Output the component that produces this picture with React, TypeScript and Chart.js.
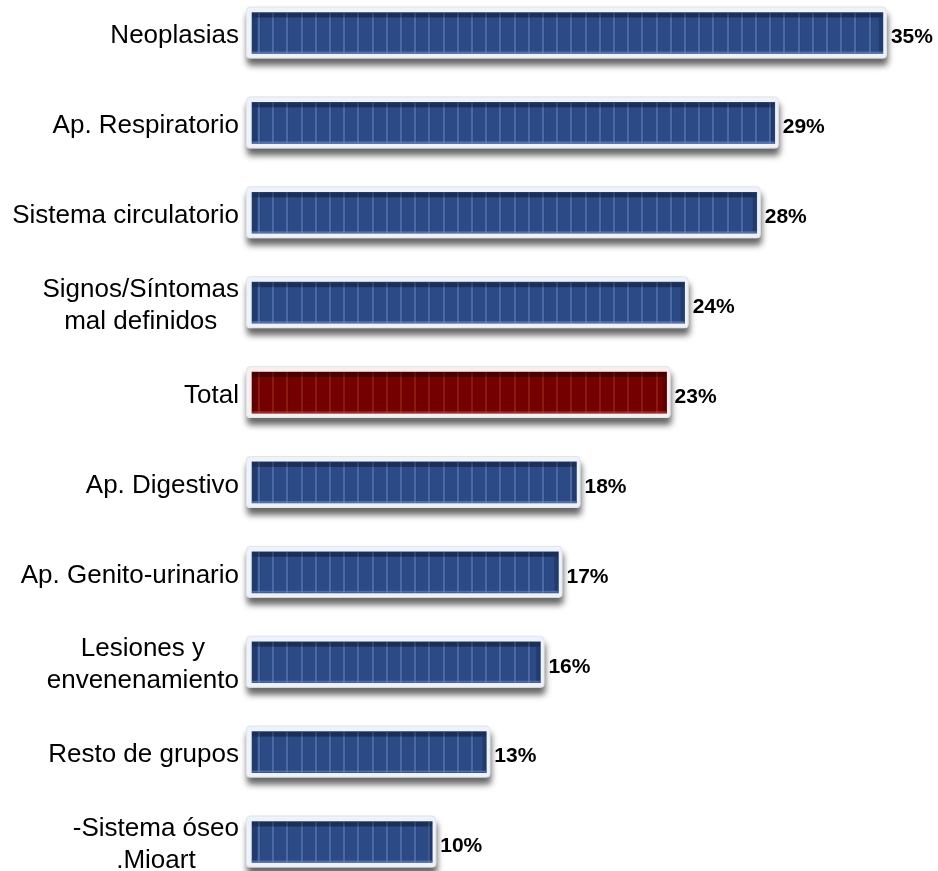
import React, { useEffect, useRef } from "react";
import { Chart, registerables } from "chart.js";

Chart.register(...registerables);

// Causes of death, share of deaths per group (%)
const categories: string[][] = [
  ["Neoplasias"],
  ["Ap. Respiratorio"],
  ["Sistema circulatorio"],
  ["Signos/Síntomas", "mal definidos"],
  ["Total"],
  ["Ap. Digestivo"],
  ["Ap. Genito-urinario"],
  ["Lesiones y", "envenenamiento"],
  ["Resto de grupos"],
  ["-Sistema óseo", ".Mioart"],
];
const percentages: number[] = [35, 29, 28, 24, 23, 18, 17, 16, 13, 10];
const totalIndex = 4;

const FONT = "'Liberation Sans', Arial, Helvetica, sans-serif";

type Palette = { base: string; frame: string; stripe: string };
const bluePalette: Palette = { base: "#2c4a86", frame: "#f0f2fa", stripe: "rgba(130,158,215,0.38)" };
const redPalette: Palette = { base: "#740000", frame: "#f8f0f0", stripe: "rgba(190,85,55,0.32)" };
const paletteFor = (i: number) => (i === totalIndex ? redPalette : bluePalette);

function roundedRect(ctx: CanvasRenderingContext2D, x: number, y: number, w: number, h: number, r: number) {
  ctx.beginPath();
  ctx.moveTo(x + r, y);
  ctx.lineTo(x + w - r, y);
  ctx.quadraticCurveTo(x + w, y, x + w, y + r);
  ctx.lineTo(x + w, y + h - r);
  ctx.quadraticCurveTo(x + w, y + h, x + w - r, y + h);
  ctx.lineTo(x + r, y + h);
  ctx.quadraticCurveTo(x, y + h, x, y + h - r);
  ctx.lineTo(x, y + r);
  ctx.quadraticCurveTo(x, y, x + r, y);
  ctx.closePath();
}

function barBox(bar: any) {
  const p = bar.getProps(["x", "y", "base", "height"], true);
  const left = Math.min(p.base, p.x);
  const right = Math.max(p.base, p.x);
  return { left, right, top: p.y - p.height / 2, bottom: p.y + p.height / 2, cy: p.y };
}

// Framed, striped bars with a drop shadow, value labels and category labels
const barDecor = {
  id: "barDecor",
  beforeDatasetsDraw(chart: any) {
    const ctx: CanvasRenderingContext2D = chart.ctx;
    const meta = chart.getDatasetMeta(0);
    meta.data.forEach((bar: any, i: number) => {
      const { left, right, top, bottom } = barBox(bar);
      const pal = paletteFor(i);
      ctx.save();
      ctx.shadowColor = "rgba(0,0,0,0.6)";
      ctx.shadowBlur = 6;
      ctx.shadowOffsetX = 1;
      ctx.shadowOffsetY = 7;
      ctx.fillStyle = pal.frame;
      roundedRect(ctx, left - 6, top - 6, right - left + 10, bottom - top + 11, 4);
      ctx.fill();
      ctx.restore();
      ctx.save();
      ctx.strokeStyle = "rgba(215,218,232,0.6)";
      ctx.lineWidth = 1;
      roundedRect(ctx, left - 5.5, top - 5.5, right - left + 9, bottom - top + 10, 4);
      ctx.stroke();
      ctx.restore();
    });
  },
  afterDatasetsDraw(chart: any) {
    const ctx: CanvasRenderingContext2D = chart.ctx;
    const meta = chart.getDatasetMeta(0);
    meta.data.forEach((bar: any, i: number) => {
      const { left, right, top, bottom, cy } = barBox(bar);
      const w = right - left;
      const pal = paletteFor(i);
      ctx.save();
      ctx.beginPath();
      ctx.rect(left, top, w, bottom - top);
      ctx.clip();
      // vertical stripes
      for (let sx = left + 6; sx < right - 3; sx += 14.2) {
        const px = Math.round(sx);
        ctx.fillStyle = pal.stripe;
        ctx.fillRect(px, top, 2, bottom - top);
        ctx.fillStyle = "rgba(0,0,0,0.05)";
        ctx.fillRect(px + 2, top, 1, bottom - top);
      }
      // bevels
      ctx.fillStyle = "rgba(0,0,0,0.35)";
      ctx.fillRect(left, top, w, 5);
      ctx.fillStyle = "rgba(0,0,0,0.2)";
      ctx.beginPath();
      ctx.moveTo(left, top + 5);
      ctx.lineTo(left + 5, top + 5);
      ctx.lineTo(left + 5, bottom - 2);
      ctx.lineTo(left, bottom);
      ctx.closePath();
      ctx.fill();
      ctx.beginPath();
      ctx.moveTo(right, top + 5);
      ctx.lineTo(right - 4, top + 5);
      ctx.lineTo(right - 4, bottom - 2);
      ctx.lineTo(right, bottom);
      ctx.closePath();
      ctx.fill();
      ctx.fillStyle = i === totalIndex ? "rgba(190,70,60,0.5)" : "rgba(110,140,205,0.55)";
      ctx.fillRect(left, bottom - 2, w, 2);
      ctx.restore();

      // value label
      ctx.save();
      ctx.fillStyle = "#000";
      ctx.font = `bold 21px ${FONT}`;
      ctx.textAlign = "left";
      ctx.textBaseline = "middle";
      ctx.fillText(`${percentages[i]}%`, right + 8, cy + 4.5);
      ctx.restore();
    });
  },
  afterDraw(chart: any) {
    const ctx: CanvasRenderingContext2D = chart.ctx;
    const yScale = chart.scales.y;
    const rightEdge = 239;
    const lineGap = 32;
    ctx.save();
    ctx.fillStyle = "#000";
    ctx.font = `26px ${FONT}`;
    ctx.textBaseline = "middle";
    ctx.textAlign = "center";
    categories.forEach((lines, i) => {
      const cy = yScale.getPixelForValue(i) + 3;
      const widest = Math.max(...lines.map((l) => ctx.measureText(l).width));
      const cx = rightEdge - widest / 2;
      const y0 = cy - ((lines.length - 1) * lineGap) / 2;
      lines.forEach((l, k) => ctx.fillText(l, cx, y0 + k * lineGap));
    });
    ctx.restore();
  },
};

export default function App() {
  const canvasRef = useRef<HTMLCanvasElement | null>(null);

  useEffect(() => {
    const canvas = canvasRef.current;
    if (!canvas) return;
    const chart = new Chart(canvas, {
      type: "bar",
      data: {
        labels: categories.map((c) => c.join(" ")),
        datasets: [
          {
            data: percentages,
            backgroundColor: percentages.map((_, i) => paletteFor(i).base),
            borderWidth: 0,
            barThickness: 41,
            clip: false as any,
          },
        ],
      },
      options: {
        indexAxis: "y",
        responsive: false,
        animation: false,
        layout: { padding: { left: 252, right: 1, top: 33, bottom: 29 } },
        scales: {
          x: { type: "linear", min: 0, max: 38, display: false },
          y: { type: "category", offset: false, display: false, grid: { display: false } },
        },
        plugins: {
          legend: { display: false },
          tooltip: { enabled: false },
        },
      },
      plugins: [barDecor],
    });
    return () => chart.destroy();
  }, []);

  return (
    <div style={{ position: "fixed", left: 0, top: 0, width: 938, height: 871, background: "#fff" }}>
      <canvas ref={canvasRef} width={938} height={871} style={{ display: "block" }} />
    </div>
  );
}
